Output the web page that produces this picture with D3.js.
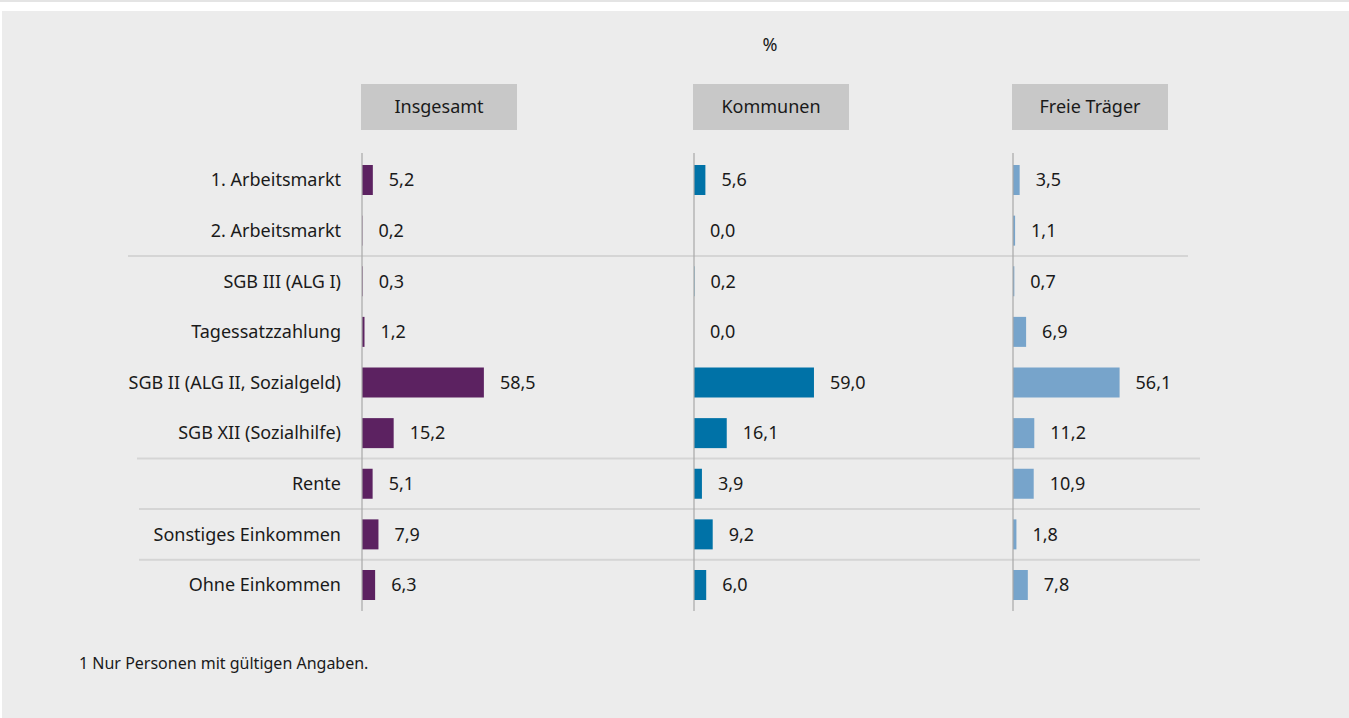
<!DOCTYPE html>
<html>
<head>
<meta charset="utf-8">
<script src="https://cdn.jsdelivr.net/npm/d3@7"></script>
<style>
  body { margin: 0; background: #fff; }
  svg { display: block; font-family: "Noto Sans", "Open Sans", sans-serif; }
</style>
</head>
<body>
<div class="chart"></div>
<script>
// categories and values (percent)
var categories = ["1. Arbeitsmarkt", "2. Arbeitsmarkt", "SGB III (ALG I)", "Tagessatzzahlung",
  "SGB II (ALG II, Sozialgeld)", "SGB XII (Sozialhilfe)", "Rente", "Sonstiges Einkommen", "Ohne Einkommen"];
var groups = ["Insgesamt", "Kommunen", "Freie Träger"];
var insgesamt = [5.2, 0.2, 0.3, 1.2, 58.5, 15.2, 5.1, 7.9, 6.3];
var kommunen = [5.6, 0.0, 0.2, 0.0, 59.0, 16.1, 3.9, 9.2, 6.0];
var freieTraeger = [3.5, 1.1, 0.7, 6.9, 56.1, 11.2, 10.9, 1.8, 7.8];
var unitLabel = "%";
var footnote = "1 Nur Personen mit gültigen Angaben.";

drawChart();

function drawChart() {
  var width = 1349, height = 718;
  var colors = ["#5c2261", "#0072a7", "#77a4cb"];
  var series = [insgesamt, kommunen, freieTraeger];
  var fmt = function(v) { return d3.format(".1f")(v).replace(".", ","); };
  var fontSize = 18;

  // panel x positions and bar scale widths (for 60 %)
  var panelX = [362, 694, 1013];
  var panelW = [125, 122, 114];
  var barH = 30;

  var svg = d3.select(".chart").append("svg")
    .attr("width", width)
    .attr("height", height);

  // background
  svg.append("rect").attr("x", 0).attr("y", 0).attr("width", width).attr("height", 2).attr("fill", "#e4e4e4");
  svg.append("rect").attr("x", 2).attr("y", 11).attr("width", width - 2).attr("height", height - 11).attr("fill", "#ececec");

  var y = d3.scalePoint().domain(categories).range([180, 585]);
  var step = y.step();

  // separator lines between some rows
  var seps = [{after: 1, x1: 128, x2: 1188}, {after: 5, x1: 137, x2: 1200},
              {after: 6, x1: 139, x2: 1200}, {after: 7, x1: 139, x2: 1200}];
  seps.forEach(function(s) {
    var yy = y(categories[s.after]) + step / 2;
    svg.append("line")
      .attr("x1", s.x1).attr("x2", s.x2)
      .attr("y1", yy).attr("y2", yy)
      .attr("stroke", "#d5d5d5").attr("stroke-width", 2);
  });

  // unit label
  svg.append("text")
    .attr("x", 770).attr("y", 45)
    .attr("dy", "0.35em")
    .attr("text-anchor", "middle")
    .attr("font-size", fontSize).attr("fill", "#1a1a1a")
    .text(unitLabel);

  // category labels
  svg.selectAll(".cat")
    .data(categories)
    .enter().append("text")
    .attr("class", "cat")
    .attr("x", 341)
    .attr("y", function(d) { return y(d); })
    .attr("dy", "0.35em")
    .attr("text-anchor", "end")
    .attr("font-size", fontSize).attr("fill", "#1a1a1a")
    .text(function(d) { return d; });

  groups.forEach(function(g, k) {
    var x = d3.scaleLinear().domain([0, 60]).range([panelX[k], panelX[k] + panelW[k]]);
    var gEl = svg.append("g").attr("class", "panel");

    // header box
    gEl.append("rect")
      .attr("x", panelX[k] - 1).attr("y", 84)
      .attr("width", 156).attr("height", 46)
      .attr("fill", "#c8c8c8");
    gEl.append("text")
      .attr("x", panelX[k] + 77).attr("y", 107)
      .attr("dy", "0.35em")
      .attr("text-anchor", "middle")
      .attr("font-size", fontSize).attr("fill", "#1a1a1a")
      .text(g);

    // bars
    gEl.selectAll(".bar")
      .data(series[k])
      .enter().append("rect")
      .attr("class", "bar")
      .attr("x", x(0))
      .attr("y", function(d, i) { return y(categories[i]) - barH / 2; })
      .attr("width", function(d) { return x(d) - x(0); })
      .attr("height", barH)
      .attr("fill", colors[k]);

    // value labels
    gEl.selectAll(".val")
      .data(series[k])
      .enter().append("text")
      .attr("class", "val")
      .attr("x", function(d) { return x(d) + 16; })
      .attr("y", function(d, i) { return y(categories[i]); })
      .attr("dy", "0.35em")
      .attr("font-size", fontSize).attr("fill", "#1a1a1a")
      .text(fmt);

    // baseline
    gEl.append("line")
      .attr("x1", x(0)).attr("x2", x(0))
      .attr("y1", 153).attr("y2", 611)
      .attr("stroke", "#a8a8a8").attr("stroke-width", 1.2);
  });

  // footnote
  svg.append("text")
    .attr("x", 79).attr("y", 663)
    .attr("dy", "0.35em")
    .attr("font-size", 16).attr("fill", "#1a1a1a")
    .text(footnote);
}
</script>
</body>
</html>
